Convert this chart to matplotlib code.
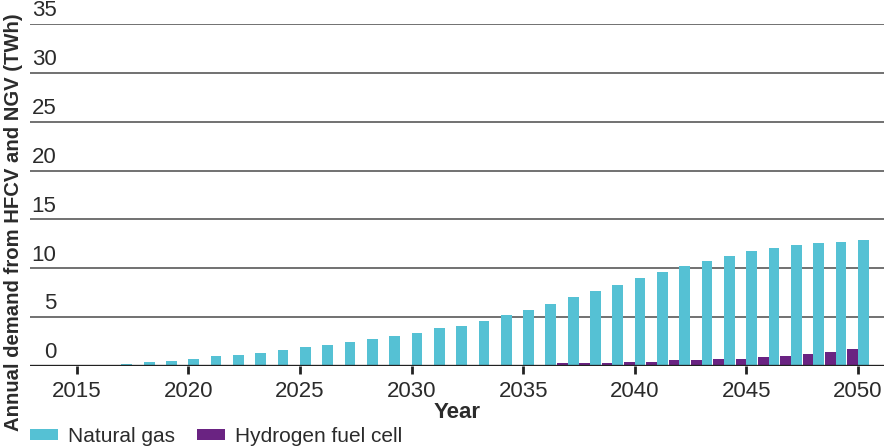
import numpy as np
import matplotlib
matplotlib.use("Agg")
import matplotlib.pyplot as plt
from matplotlib.patches import Patch
from matplotlib.transforms import offset_copy

plt.rcParams['font.family'] = ['Liberation Sans', 'DejaVu Sans']

# data (TWh)
years = list(range(2017, 2051))
natural_gas = [0.17, 0.37, 0.50, 0.68, 0.99, 1.16, 1.33, 1.64, 1.95, 2.13,
               2.47, 2.78, 3.08, 3.40, 3.85, 4.12, 4.64, 5.26, 5.77, 6.39,
               7.04, 7.70, 8.32, 8.97, 9.66, 10.28, 10.79, 11.24, 11.72, 12.06,
               12.37, 12.58, 12.71, 12.89]
hydrogen = [0, 0, 0, 0, 0, 0, 0, 0, 0, 0,
            0, 0, 0, 0, 0, 0.12, 0.12, 0.12, 0.12, 0.12,
            0.30, 0.30, 0.30, 0.42, 0.42, 0.58, 0.58, 0.73, 0.73, 0.89,
            1.05, 1.22, 1.39, 1.70]
x_ticks = [2015, 2020, 2025, 2030, 2035, 2040, 2045, 2050]
y_ticks = [0, 5, 10, 15, 20, 25, 30, 35]

cyan = '#55c1d4'
purple = '#6a2382'
text_col = '#2b2b2b'

fig = plt.figure(figsize=(8.88, 4.48), dpi=100)
ax = fig.add_axes([30 / 888, 82 / 448, 854 / 888, 342 / 448])

x = np.array(years)
w = 0.48
ax.bar(x - w / 2, hydrogen, width=w, color=purple, zorder=3)
ax.bar(x + w / 2, natural_gas, width=w, color=cyan, zorder=3)

ax.set_xlim(2012.9, 2051.17)
ax.set_ylim(0, 35)

# gridlines
for v in y_ticks[1:]:
    ax.axhline(v, color='#4a4a4a', lw=1.1, zorder=1)
ax.axhline(0, color='#222222', lw=2.4, zorder=4)

for s in ax.spines.values():
    s.set_visible(False)

ax.set_yticks([])
ax.set_xticks(x_ticks)
ax.set_xticklabels([str(t) for t in x_ticks], fontsize=16, color=text_col)
ax.tick_params(axis='x', direction='out', length=6, width=2, color='#222222', pad=5)

# y labels sit above the gridlines
trans = offset_copy(ax.get_yaxis_transform(), fig=fig, x=0, y=2, units='points')
for v in y_ticks:
    ax.text(0.031, v, str(v), transform=trans, ha='right', va='bottom',
            fontsize=16, color=text_col)

ax.set_xlabel('Year', fontsize=16, fontweight='bold', color=text_col, labelpad=0)
fig.text(14 / 888, 0.503, 'Annual demand from HFCV and NGV (TWh)', rotation=90,
         ha='center', va='center', fontsize=14.6, fontweight='bold', color=text_col)

handles = [Patch(facecolor=cyan), Patch(facecolor=purple)]
fig.legend(handles, ['Natural gas', 'Hydrogen fuel cell'], loc='lower left',
           bbox_to_anchor=(22 / 888, -0.014), ncol=2, frameon=False,
           fontsize=15, handlelength=1.35, handleheight=0.45,
           handletextpad=0.48, columnspacing=1.05, borderaxespad=0,
           labelcolor=text_col)

fig.savefig('out.png', dpi=100)
